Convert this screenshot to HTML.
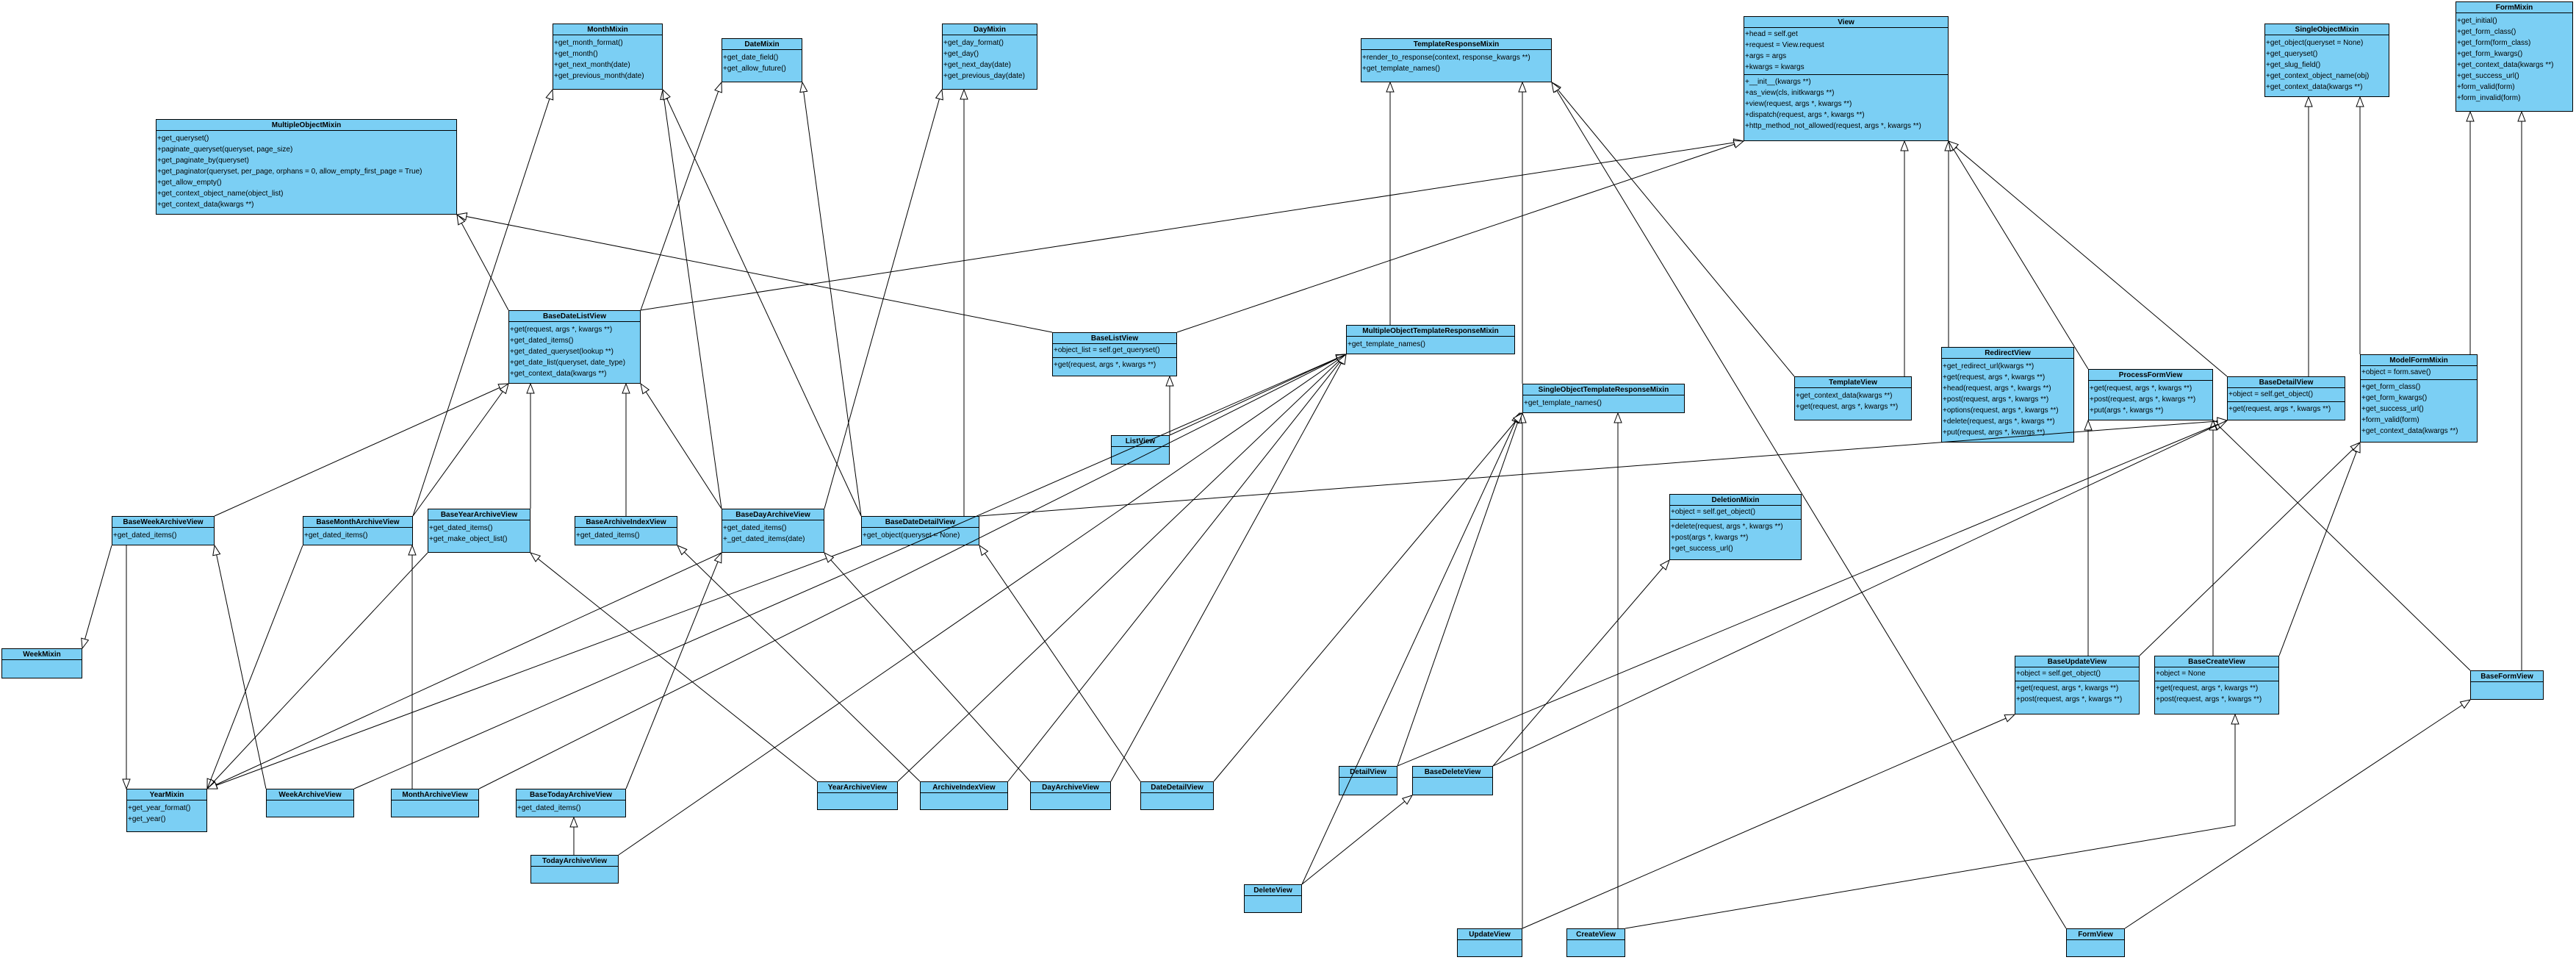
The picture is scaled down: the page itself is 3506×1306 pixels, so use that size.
<!DOCTYPE html>
<html><head><meta charset="utf-8"><style>
html,body{margin:0;padding:0;background:#fff;}
#c{position:relative;width:3506px;height:1306px;overflow:hidden;background:#fff;font-family:"Liberation Sans",Arial,sans-serif;}
.b{position:absolute;background:#7bcff4;border:1.5px solid #000;box-sizing:border-box;overflow:hidden;}
.h{height:15px;line-height:15px;border-bottom:1.5px solid #000;font-weight:bold;font-size:10px;text-align:center;white-space:nowrap;box-sizing:border-box;}
.s{border-bottom:1.2px solid #000;padding:1px 0 2px 0;}
.r{height:15px;line-height:15px;font-size:10px;white-space:nowrap;padding-left:1px;}
.pt{padding-top:3px;}
svg{position:absolute;left:0;top:0;}
</style></head><body><div id="c">

<div class="b" style="left:752px;top:32px;width:150px;height:90px"><div class="h">MonthMixin</div><div class="pt"><div class="r">+get_month_format()</div><div class="r">+get_month()</div><div class="r">+get_next_month(date)</div><div class="r">+get_previous_month(date)</div></div></div>
<div class="b" style="left:982px;top:52px;width:110px;height:60px"><div class="h">DateMixin</div><div class="pt"><div class="r">+get_date_field()</div><div class="r">+get_allow_future()</div></div></div>
<div class="b" style="left:212px;top:162px;width:410px;height:130px"><div class="h">MultipleObjectMixin</div><div class="pt"><div class="r">+get_queryset()</div><div class="r">+paginate_queryset(queryset, page_size)</div><div class="r">+get_paginate_by(queryset)</div><div class="r">+get_paginator(queryset, per_page, orphans = 0, allow_empty_first_page = True)</div><div class="r">+get_allow_empty()</div><div class="r">+get_context_object_name(object_list)</div><div class="r">+get_context_data(kwargs **)</div></div></div>
<div class="b" style="left:692px;top:422px;width:180px;height:100px"><div class="h">BaseDateListView</div><div class="pt"><div class="r">+get(request, args *, kwargs **)</div><div class="r">+get_dated_items()</div><div class="r">+get_dated_queryset(lookup **)</div><div class="r">+get_date_list(queryset, date_type)</div><div class="r">+get_context_data(kwargs **)</div></div></div>
<div class="b" style="left:1282px;top:32px;width:130px;height:90px"><div class="h">DayMixin</div><div class="pt"><div class="r">+get_day_format()</div><div class="r">+get_day()</div><div class="r">+get_next_day(date)</div><div class="r">+get_previous_day(date)</div></div></div>
<div class="b" style="left:1852px;top:52px;width:260px;height:60px"><div class="h">TemplateResponseMixin</div><div class="pt"><div class="r">+render_to_response(context, response_kwargs **)</div><div class="r">+get_template_names()</div></div></div>
<div class="b" style="left:1432px;top:452px;width:170px;height:60px"><div class="h">BaseListView</div><div class="s"><div class="r">+object_list = self.get_queryset()</div></div><div class="r" style="margin-top:2px">+get(request, args *, kwargs **)</div></div>
<div class="b" style="left:1832px;top:442px;width:230px;height:40px"><div class="h">MultipleObjectTemplateResponseMixin</div><div class="pt"><div class="r">+get_template_names()</div></div></div>
<div class="b" style="left:1512px;top:592px;width:80px;height:40px"><div class="h">ListView</div></div>
<div class="b" style="left:2072px;top:522px;width:221px;height:40px"><div class="h">SingleObjectTemplateResponseMixin</div><div class="pt"><div class="r">+get_template_names()</div></div></div>
<div class="b" style="left:2373px;top:22px;width:279px;height:170px"><div class="h">View</div><div class="s" style="height:64px;box-sizing:border-box;padding-top:1px"><div class="r">+head = self.get</div><div class="r">+request = View.request</div><div class="r">+args = args</div><div class="r">+kwargs = kwargs</div></div><div style="padding-top:2px"><div class="r">+__init__(kwargs **)</div><div class="r">+as_view(cls, initkwargs **)</div><div class="r">+view(request, args *, kwargs **)</div><div class="r">+dispatch(request, args *, kwargs **)</div><div class="r">+http_method_not_allowed(request, args *, kwargs **)</div></div></div>
<div class="b" style="left:3082px;top:32px;width:170px;height:100px"><div class="h">SingleObjectMixin</div><div class="pt"><div class="r">+get_object(queryset = None)</div><div class="r">+get_queryset()</div><div class="r">+get_slug_field()</div><div class="r">+get_context_object_name(obj)</div><div class="r">+get_context_data(kwargs **)</div></div></div>
<div class="b" style="left:3342px;top:2px;width:160px;height:150px"><div class="h">FormMixin</div><div class="pt"><div class="r">+get_initial()</div><div class="r">+get_form_class()</div><div class="r">+get_form(form_class)</div><div class="r">+get_form_kwargs()</div><div class="r">+get_context_data(kwargs **)</div><div class="r">+get_success_url()</div><div class="r">+form_valid(form)</div><div class="r">+form_invalid(form)</div></div></div>
<div class="b" style="left:2442px;top:512px;width:160px;height:60px"><div class="h">TemplateView</div><div class="pt"><div class="r">+get_context_data(kwargs **)</div><div class="r">+get(request, args *, kwargs **)</div></div></div>
<div class="b" style="left:2642px;top:472px;width:181px;height:130px"><div class="h">RedirectView</div><div class="pt"><div class="r">+get_redirect_url(kwargs **)</div><div class="r">+get(request, args *, kwargs **)</div><div class="r">+head(request, args *, kwargs **)</div><div class="r">+post(request, args *, kwargs **)</div><div class="r">+options(request, args *, kwargs **)</div><div class="r">+delete(request, args *, kwargs **)</div><div class="r">+put(request, args *, kwargs **)</div></div></div>
<div class="b" style="left:2842px;top:502px;width:170px;height:70px"><div class="h">ProcessFormView</div><div class="pt"><div class="r">+get(request, args *, kwargs **)</div><div class="r">+post(request, args *, kwargs **)</div><div class="r">+put(args *, kwargs **)</div></div></div>
<div class="b" style="left:3031px;top:512px;width:161px;height:60px"><div class="h">BaseDetailView</div><div class="s"><div class="r">+object = self.get_object()</div></div><div class="r" style="margin-top:2px">+get(request, args *, kwargs **)</div></div>
<div class="b" style="left:3212px;top:482px;width:160px;height:120px"><div class="h">ModelFormMixin</div><div class="s"><div class="r">+object = form.save()</div></div><div style="padding-top:2px"><div class="r">+get_form_class()</div><div class="r">+get_form_kwargs()</div><div class="r">+get_success_url()</div><div class="r">+form_valid(form)</div><div class="r">+get_context_data(kwargs **)</div></div></div>
<div class="b" style="left:152px;top:702px;width:140px;height:40px"><div class="h">BaseWeekArchiveView</div><div class="pt"><div class="r">+get_dated_items()</div></div></div>
<div class="b" style="left:412px;top:702px;width:150px;height:40px"><div class="h">BaseMonthArchiveView</div><div class="pt"><div class="r">+get_dated_items()</div></div></div>
<div class="b" style="left:582px;top:692px;width:140px;height:60px"><div class="h">BaseYearArchiveView</div><div class="pt"><div class="r">+get_dated_items()</div><div class="r">+get_make_object_list()</div></div></div>
<div class="b" style="left:782px;top:702px;width:140px;height:40px"><div class="h">BaseArchiveIndexView</div><div class="pt"><div class="r">+get_dated_items()</div></div></div>
<div class="b" style="left:982px;top:692px;width:140px;height:60px"><div class="h">BaseDayArchiveView</div><div class="pt"><div class="r">+get_dated_items()</div><div class="r">+_get_dated_items(date)</div></div></div>
<div class="b" style="left:1172px;top:702px;width:161px;height:40px"><div class="h">BaseDateDetailView</div><div class="pt"><div class="r">+get_object(queryset = None)</div></div></div>
<div class="b" style="left:2px;top:882px;width:110px;height:41px"><div class="h">WeekMixin</div></div>
<div class="b" style="left:172px;top:1073px;width:110px;height:59px"><div class="h">YearMixin</div><div class="pt"><div class="r">+get_year_format()</div><div class="r">+get_year()</div></div></div>
<div class="b" style="left:362px;top:1073px;width:120px;height:39px"><div class="h">WeekArchiveView</div></div>
<div class="b" style="left:532px;top:1073px;width:120px;height:39px"><div class="h">MonthArchiveView</div></div>
<div class="b" style="left:702px;top:1073px;width:150px;height:39px"><div class="h">BaseTodayArchiveView</div><div class="pt"><div class="r">+get_dated_items()</div></div></div>
<div class="b" style="left:722px;top:1163px;width:120px;height:39px"><div class="h">TodayArchiveView</div></div>
<div class="b" style="left:1112px;top:1063px;width:110px;height:39px"><div class="h">YearArchiveView</div></div>
<div class="b" style="left:1252px;top:1063px;width:120px;height:39px"><div class="h">ArchiveIndexView</div></div>
<div class="b" style="left:1402px;top:1063px;width:110px;height:39px"><div class="h">DayArchiveView</div></div>
<div class="b" style="left:1552px;top:1063px;width:100px;height:39px"><div class="h">DateDetailView</div></div>
<div class="b" style="left:1822px;top:1042px;width:80px;height:40px"><div class="h">DetailView</div></div>
<div class="b" style="left:1922px;top:1042px;width:110px;height:40px"><div class="h">BaseDeleteView</div></div>
<div class="b" style="left:1693px;top:1203px;width:79px;height:39px"><div class="h">DeleteView</div></div>
<div class="b" style="left:2272px;top:672px;width:180px;height:90px"><div class="h">DeletionMixin</div><div class="s"><div class="r">+object = self.get_object()</div></div><div style="padding-top:2px"><div class="r">+delete(request, args *, kwargs **)</div><div class="r">+post(args *, kwargs **)</div><div class="r">+get_success_url()</div></div></div>
<div class="b" style="left:1983px;top:1263px;width:89px;height:39px"><div class="h">UpdateView</div></div>
<div class="b" style="left:2132px;top:1263px;width:80px;height:39px"><div class="h">CreateView</div></div>
<div class="b" style="left:2742px;top:892px;width:170px;height:80px"><div class="h">BaseUpdateView</div><div class="s"><div class="r">+object = self.get_object()</div></div><div style="padding-top:2px"><div class="r">+get(request, args *, kwargs **)</div><div class="r">+post(request, args *, kwargs **)</div></div></div>
<div class="b" style="left:2932px;top:892px;width:170px;height:80px"><div class="h">BaseCreateView</div><div class="s"><div class="r">+object = None</div></div><div style="padding-top:2px"><div class="r">+get(request, args *, kwargs **)</div><div class="r">+post(request, args *, kwargs **)</div></div></div>
<div class="b" style="left:3362px;top:912px;width:100px;height:40px"><div class="h">BaseFormView</div></div>
<div class="b" style="left:2812px;top:1263px;width:80px;height:39px"><div class="h">FormView</div></div>

<svg width="3506" height="1306" viewBox="0 0 3506 1306">
<defs><marker id="a" markerUnits="userSpaceOnUse" markerWidth="16" markerHeight="14" refX="14" refY="6" orient="auto"><path d="M1,1 L14,6 L1,11 Z" fill="#fff" stroke="#000" stroke-width="1"/></marker></defs>
<g stroke="#000" stroke-width="1" fill="none" marker-end="url(#a)">
<line x1="692" y1="422" x2="622" y2="292"/>
<line x1="872" y1="422" x2="2373" y2="192"/>
<line x1="872" y1="422" x2="982" y2="112"/>
<line x1="1432" y1="452" x2="622" y2="292"/>
<line x1="1602" y1="452" x2="2373" y2="192"/>
<line x1="1892" y1="442" x2="1892" y2="112"/>
<line x1="1592" y1="592" x2="1592" y2="512"/>
<line x1="1592" y1="592" x2="1832" y2="482"/>
<line x1="2072" y1="522" x2="2072" y2="112"/>
<line x1="2442" y1="512" x2="2112" y2="112"/>
<line x1="2592" y1="512" x2="2592" y2="192"/>
<line x1="2652" y1="472" x2="2652" y2="192"/>
<line x1="2842" y1="502" x2="2652" y2="192"/>
<line x1="3031" y1="512" x2="2652" y2="192"/>
<line x1="3142" y1="512" x2="3142" y2="132"/>
<line x1="3212" y1="482" x2="3212" y2="132"/>
<line x1="3362" y1="482" x2="3362" y2="152"/>
<line x1="3432" y1="912" x2="3432" y2="152"/>
<line x1="3362" y1="912" x2="3012" y2="572"/>
<line x1="2812" y1="1263" x2="2112" y2="112"/>
<line x1="2892" y1="1263" x2="3362" y2="952"/>
<line x1="2842" y1="892" x2="2842" y2="572"/>
<line x1="2912" y1="892" x2="3212" y2="602"/>
<line x1="3102" y1="892" x2="3212" y2="602"/>
<line x1="3012" y1="892" x2="3012" y2="572"/>
<polyline points="2212,1263 3042,1123 3042,972"/>
<line x1="2202" y1="1263" x2="2202" y2="562"/>
<line x1="2072" y1="1263" x2="2072" y2="562"/>
<line x1="2072" y1="1263" x2="2742" y2="972"/>
<line x1="1772" y1="1203" x2="1922" y2="1082"/>
<line x1="1772" y1="1203" x2="2068" y2="562"/>
<line x1="1902" y1="1042" x2="2070" y2="562"/>
<line x1="1902" y1="1042" x2="3031" y2="572"/>
<line x1="2032" y1="1042" x2="3031" y2="572"/>
<line x1="2032" y1="1042" x2="2272" y2="762"/>
<line x1="292" y1="702" x2="692" y2="522"/>
<line x1="172" y1="742" x2="172" y2="1073"/>
<line x1="152" y1="742" x2="112" y2="882"/>
<line x1="562" y1="702" x2="752" y2="122"/>
<line x1="562" y1="702" x2="692" y2="522"/>
<line x1="412" y1="742" x2="282" y2="1073"/>
<line x1="722" y1="692" x2="722" y2="522"/>
<line x1="582" y1="752" x2="282" y2="1073"/>
<line x1="852" y1="702" x2="852" y2="522"/>
<line x1="982" y1="692" x2="872" y2="522"/>
<line x1="982" y1="692" x2="902" y2="122"/>
<line x1="1122" y1="692" x2="1282" y2="122"/>
<line x1="982" y1="752" x2="282" y2="1073"/>
<line x1="1172" y1="702" x2="902" y2="122"/>
<line x1="1172" y1="702" x2="1092" y2="112"/>
<line x1="1312" y1="702" x2="1312" y2="122"/>
<line x1="1333" y1="702" x2="3031" y2="572"/>
<line x1="1172" y1="742" x2="282" y2="1073"/>
<line x1="852" y1="1073" x2="982" y2="752"/>
<line x1="781" y1="1163" x2="781" y2="1112"/>
<line x1="842" y1="1163" x2="1832" y2="482"/>
<line x1="362" y1="1073" x2="292" y2="742"/>
<line x1="482" y1="1073" x2="1832" y2="482"/>
<line x1="561" y1="1073" x2="561" y2="742"/>
<line x1="652" y1="1073" x2="1832" y2="482"/>
<line x1="1112" y1="1063" x2="722" y2="752"/>
<line x1="1222" y1="1063" x2="1832" y2="482"/>
<line x1="1252" y1="1063" x2="922" y2="742"/>
<line x1="1372" y1="1063" x2="1832" y2="482"/>
<line x1="1402" y1="1063" x2="1122" y2="752"/>
<line x1="1512" y1="1063" x2="1832" y2="482"/>
<line x1="1552" y1="1063" x2="1333" y2="742"/>
<line x1="1652" y1="1063" x2="2072" y2="562"/>
</g></svg>
</div></body></html>
